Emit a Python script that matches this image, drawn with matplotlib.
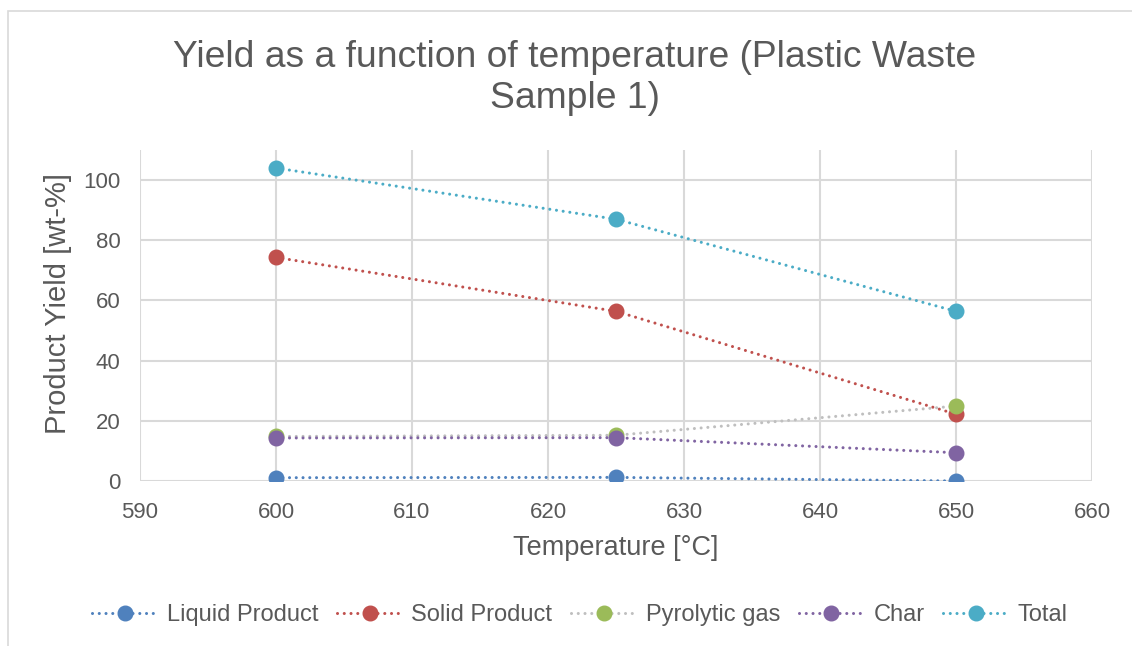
import matplotlib.pyplot as plt
from matplotlib.patches import Rectangle

plt.rcParams['font.family'] = ['Liberation Sans', 'DejaVu Sans']

# data
temps = [600, 625, 650]
liquid = [1.1, 1.2, 0.0]
solid = [74.3, 56.4, 22.2]
gas = [14.8, 15.2, 24.9]
char = [14.3, 14.4, 9.4]
total = [104.0, 87.0, 56.4]

series = [
    ("Liquid Product", liquid, '#4F81BD', '#4F81BD'),
    ("Solid Product", solid, '#C0504D', '#C0504D'),
    ("Pyrolytic gas", gas, '#BFBFBF', '#9BBB59'),
    ("Char", char, '#8064A2', '#8064A2'),
    ("Total", total, '#4BACC6', '#4BACC6'),
]

txt = '#595959'
grid = '#D9D9D9'

fig = plt.figure(figsize=(11.32, 6.46), dpi=100)
ax = fig.add_axes([140 / 1132, 165 / 646, 952 / 1132, 331 / 646])

# outer chart border
fig.patches.append(Rectangle((8 / 1132, -0.05), 1.1, (646 - 11) / 646 + 0.05,
                             transform=fig.transFigure, fill=False,
                             edgecolor=grid, linewidth=1.2))

for name, vals, lc, mc in series:
    ax.plot(temps, vals, linestyle=(0, (0.01, 2.2)), dash_capstyle='round',
            linewidth=2.2, color=lc, marker='o', markersize=10.5,
            markerfacecolor=mc, markeredgecolor=mc, label=name)

ax.set_xlim(590, 660)
ax.set_ylim(0, 110)
ax.set_xticks(range(590, 661, 10))
ax.set_yticks(range(0, 101, 20))
ax.grid(True, color=grid, linewidth=1.5)
ax.set_axisbelow(True)
for s in ax.spines.values():
    s.set_visible(False)
ax.tick_params(length=0, labelsize=16, labelcolor=txt)
ax.tick_params(axis='x', pad=15)
ax.tick_params(axis='y', pad=14)

ax.set_xlabel("Temperature [°C]", fontsize=19.5, color=txt, labelpad=9)
ax.set_ylabel("Product Yield [wt-%]", fontsize=21, color=txt)
ax.yaxis.set_label_coords(-(140 - 72) / 952, (481 - 303) / 331)

fig.text(575 / 1132, 1 - 78 / 646, "Yield as a function of temperature (Plastic Waste\nSample 1)",
         ha='center', va='center', fontsize=26.8, color=txt, linespacing=1.22)

leg = fig.legend(loc='center', bbox_to_anchor=(580 / 1132, 1 - 615 / 646), ncol=5,
                 frameon=False, fontsize=17, handlelength=2.75, columnspacing=0.8,
                 handletextpad=0.4, labelcolor=txt)

fig.savefig("out.png", dpi=100)
